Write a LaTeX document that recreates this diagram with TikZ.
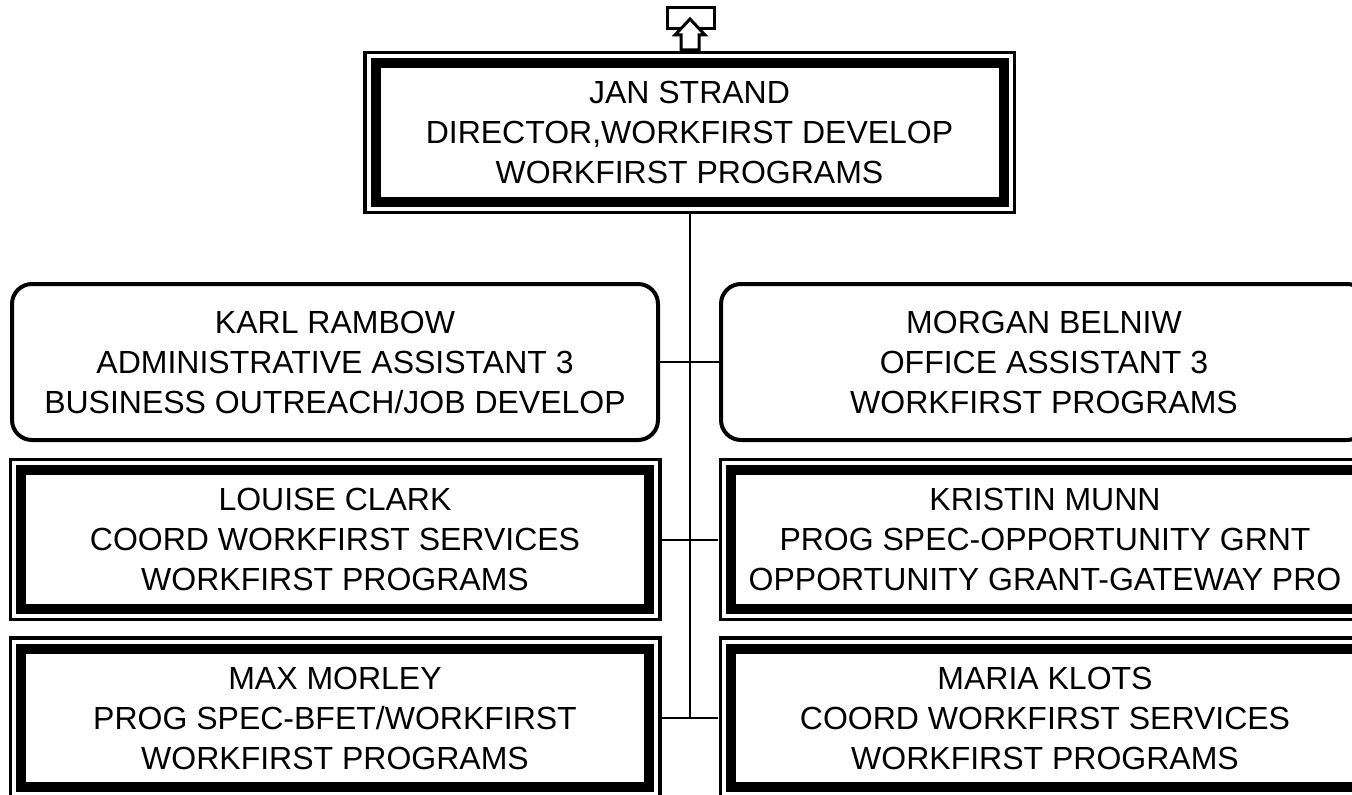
\documentclass[tikz,border=0pt]{standalone}
\usepackage{fontspec}
\setmainfont{Liberation Sans}
\usetikzlibrary{positioning}
\tikzset{
  frnode/.style={draw,fill=white,line width=7.5pt,
    preaction={draw,line width=18.75pt},
    preaction={draw=white,line width=13.5pt},
    minimum width=471pt,minimum height=104pt,outer sep=9.4pt,
    font=\fontsize{24}{30}\selectfont,align=center,inner sep=0pt},
  rdnode/.style={draw,fill=white,line width=3pt,rounded corners=15pt,
    minimum width=484.5pt,minimum height=117pt,
    font=\fontsize{24}{30}\selectfont,align=center,inner sep=0pt},
  link/.style={line width=1.5pt},
  upicon/.style={draw,line width=2.25pt,fill=white},
}
\begin{document}
\begin{tikzpicture}[x=0.75pt,y=-0.75pt]
  \useasboundingbox (0,0) rectangle (1352,795);
  \fill[white] (0,0) rectangle (1352,795);
  \clip (0,0) rectangle (1352,795);
  % head
  \node[frnode] (jan) at (689.5,132.5) {JAN STRAND\\DIRECTOR,WORKFIRST DEVELOP\\WORKFIRST PROGRAMS};
  % staff
  \node[rdnode] (karl) at (335,362) {KARL RAMBOW\\ADMINISTRATIVE ASSISTANT 3\\BUSINESS OUTREACH/JOB DEVELOP};
  \node[rdnode] (morgan) at (1044,362) {MORGAN BELNIW\\OFFICE ASSISTANT 3\\WORKFIRST PROGRAMS};
  \node[frnode] (louise) at (335,539.5) {LOUISE CLARK\\COORD WORKFIRST SERVICES\\WORKFIRST PROGRAMS};
  \node[frnode] (kristin) at (1045,539.5) {KRISTIN MUNN\\PROG SPEC-OPPORTUNITY GRNT\\OPPORTUNITY GRANT-GATEWAY PRO};
  \node[frnode] (max) at (335,718) {MAX MORLEY\\PROG SPEC-BFET/WORKFIRST\\WORKFIRST PROGRAMS};
  \node[frnode] (maria) at (1045,718) {MARIA KLOTS\\COORD WORKFIRST SERVICES\\WORKFIRST PROGRAMS};
  % lines
  \draw[link] (jan.south) -- (jan.south |- max.east);
  \draw[link] (karl.east) -- (morgan.west);
  \draw[link] (louise.east) -- (kristin.west);
  \draw[link] (max.east) -- (maria.west);
  % up icon
  \draw[upicon] (667,8) rectangle (714,29);
  \draw[upicon] (681,50) -- (681,35) -- (675,35) -- (690,19) -- (705,35) -- (699,35) -- (699,50) -- cycle;
\end{tikzpicture}
\end{document}
